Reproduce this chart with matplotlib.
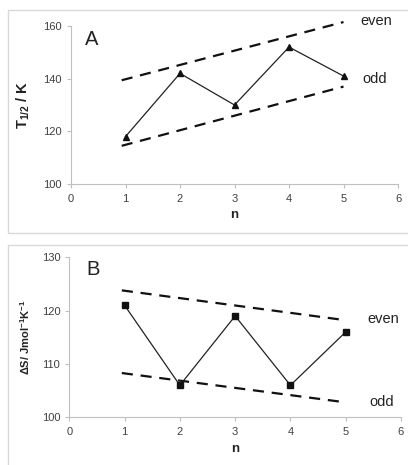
import matplotlib
matplotlib.use("Agg")
import matplotlib.pyplot as plt
from matplotlib.patches import Rectangle

plt.rcParams["font.family"] = ["Liberation Sans", "DejaVu Sans"]
plt.rcParams["mathtext.fontset"] = "custom"
plt.rcParams["mathtext.rm"] = "Liberation Sans"
plt.rcParams["mathtext.bf"] = "Liberation Sans:bold"
plt.rcParams["mathtext.it"] = "Liberation Sans:italic"

n = [1, 2, 3, 4, 5]
t_half = [118, 142, 130, 152, 141]
dS = [121, 106, 119, 106, 116]

# guide lines (start/end points)
a_even_x = [0.93, 5.0]; a_even_y = [139.4, 161.5]
a_odd_x = [0.93, 5.0]; a_odd_y = [114.5, 137.0]
b_even_x = [0.95, 5.0]; b_even_y = [123.8, 118.2]
b_odd_x = [0.95, 5.0]; b_odd_y = [108.3, 102.8]

W, H = 408, 465
fig = plt.figure(figsize=(W / 100, H / 100), dpi=100)
fig.patch.set_facecolor("white")

# panel frames
for (x0, y0, x1, y1) in [(8, 10, 420, 233), (8, 245.5, 420, 480)]:
    fig.add_artist(Rectangle((x0 / W, 1 - y1 / H), (x1 - x0) / W, (y1 - y0) / H,
                             transform=fig.transFigure, fill=False,
                             edgecolor="#d9d9d9", linewidth=1.0))

def px_axes(l, t, r, b):
    return fig.add_axes([l / W, 1 - b / H, (r - l) / W, (b - t) / H])

axA = px_axes(71, 26, 398, 184)
axB = px_axes(69.3, 257.3, 401, 417.3)

tickcol = "#404040"
spinecol = "#bfbfbf"

def style(ax, ylim, yticks):
    ax.set_xlim(0, 6)
    ax.set_ylim(*ylim)
    ax.set_xticks(range(0, 7))
    ax.set_yticks(yticks)
    for s in ["top", "right"]:
        ax.spines[s].set_visible(False)
    for s in ["left", "bottom"]:
        ax.spines[s].set_color(spinecol)
        ax.spines[s].set_linewidth(0.8)
    ax.tick_params(axis="both", colors=spinecol, labelcolor=tickcol,
                   labelsize=8, length=3, width=0.8, direction="out")
    ax.tick_params(axis="x", pad=4)
    ax.set_xlabel("n", fontsize=9.5, fontweight="bold", color="#222222", labelpad=4)
    ax.patch.set_alpha(0)

style(axA, (100, 160), [100, 120, 140, 160])
axA.plot(n, t_half, color="#222222", lw=0.9, marker="^", ms=4.5, mfc="#111111", mec="#111111")
for xs, ys in [(a_even_x, a_even_y), (a_odd_x, a_odd_y)]:
    axA.plot(xs, ys, color="#111111", lw=1.6, ls=(0, (5, 3.5)), clip_on=False)
axA.text(5.31, 162, "even", fontsize=10.5, color="#222222", va="center", clip_on=False)
axA.text(5.35, 139.7, "odd", fontsize=10.5, color="#222222", va="center", clip_on=False)
axA.text(0.26, 155, "A", fontsize=14.5, color="#222222", va="center")
axA.set_ylabel(r"$\mathbf{T_{1/2}}$ / K", fontsize=10.5, fontweight="bold", color="#222222", labelpad=8)

style(axB, (100, 130), [100, 110, 120, 130])
axB.plot(n, dS, color="#222222", lw=0.9, marker="s", ms=4.5, mfc="#111111", mec="#111111")
for xs, ys in [(b_even_x, b_even_y), (b_odd_x, b_odd_y)]:
    axB.plot(xs, ys, color="#111111", lw=1.6, ls=(0, (5, 3.5)), clip_on=False)
axB.text(5.4, 118.4, "even", fontsize=10.5, color="#222222", va="center", clip_on=False)
axB.text(5.42, 102.9, "odd", fontsize=10.5, color="#222222", va="center", clip_on=False)
axB.text(0.3, 127.8, "B", fontsize=14.5, color="#222222", va="center")
axB.set_ylabel(r"ΔS/ Jmol$^{\mathbf{-1}}$K$^{\mathbf{-1}}$", fontsize=8, fontweight="bold", color="#222222", labelpad=7)

fig.savefig("out.png", dpi=100, facecolor="white")
